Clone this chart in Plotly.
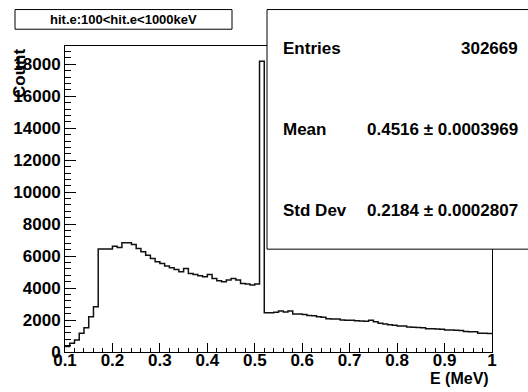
import numpy as np
import plotly.graph_objects as go

# ---- data ----
bin_low = 0.10
bin_width = 0.01
counts = [
    350, 540, 750, 1170, 1520, 2210, 2830,                      # 0.10-0.16
    6440, 6440, 6440, 6620, 6540, 6830, 6830, 6730, 6480, 6270,  # 0.17-0.26
    6060, 5850, 5650, 5540, 5380, 5270, 5170, 5020, 5230, 4920,  # 0.27-0.36
    4850, 4770, 4710, 4850, 4600, 4460, 4400, 4500, 4600, 4500,  # 0.37-0.46
    4290, 4250, 4190, 4250,                                      # 0.47-0.50
    18190,                                                       # 0.51
    2460, 2460, 2480, 2560, 2500, 2560, 2380, 2380, 2350, 2290,  # 0.52-0.61
    2270, 2210, 2180, 2080, 2060, 2070, 2000, 1990, 1980, 1960,  # 0.62-0.71
    1940, 1920, 1990, 1900, 1800, 1760, 1700, 1680, 1630, 1620,  # 0.72-0.81
    1560, 1550, 1540, 1520, 1460, 1450, 1440, 1420, 1380, 1370,  # 0.82-0.91
    1360, 1340, 1280, 1270, 1260, 1180, 1170, 1160,              # 0.92-0.99
]
title_text = "hit.e:100<hit.e<1000keV"
stats_labels = ["Entries", "Mean", "Std Dev"]
stats_values = ["302669", "0.4516 \u00b1 0.0003969", "0.2184 \u00b1 0.0002807"]
x_title = "E (MeV)"
y_title = "Count"
x_range = [0.1, 1.0]
y_range = [0, 19150]

# ---- layout geometry (pixels) ----
W, H = 528, 392
L, R, T, B = 65, 492, 45.5, 352
FONT = "Liberation Sans, Arial, Helvetica, sans-serif"


def px_x(p):
    return (p - L) / (R - L)


def px_y(p):
    return (B - p) / (B - T)


edges = bin_low + bin_width * np.arange(len(counts) + 1)
xs = list(edges)
ys = list(counts) + [counts[-1]]

fig = go.Figure()
fig.add_trace(go.Scatter(
    x=xs, y=ys, mode="lines", line=dict(shape="hv", color="#111111", width=1.5),
    hoverinfo="skip", showlegend=False,
))

fig.update_layout(
    width=W, height=H,
    margin=dict(l=L, r=W - R, t=T, b=H - B, pad=0, autoexpand=False),
    paper_bgcolor="white", plot_bgcolor="white",
    showlegend=False,
    font=dict(family=FONT, color="black"),
)
fig.update_xaxes(
    range=x_range, dtick=0.1, tick0=0.1, showgrid=False, zeroline=False,
    showline=True, linecolor="black", linewidth=1, mirror=True,
    ticks="inside", ticklen=9, tickcolor="black", tickwidth=1,
    ticklabelstandoff=-7,
    minor=dict(dtick=0.02, tick0=0.1, ticks="inside", ticklen=4.5, tickcolor="black", showgrid=False),
    tickfont=dict(family=FONT, size=17, weight="bold", color="black"),
)
fig.update_yaxes(
    range=y_range, dtick=2000, tick0=0, showgrid=False, zeroline=False,
    showline=True, linecolor="black", linewidth=1, mirror=True,
    ticks="inside", ticklen=11, tickcolor="black", tickwidth=1,
    tickformat="d",
    minor=dict(dtick=400, tick0=0, ticks="inside", ticklen=5.5, tickcolor="black", showgrid=False),
    tickfont=dict(family=FONT, size=17, weight="bold", color="black"),
)

shapes = []
annotations = []
# title box
shapes.append(dict(type="rect", xref="paper", yref="paper",
                   x0=px_x(15), x1=px_x(232), y0=px_y(28.7), y1=px_y(9),
                   line=dict(color="black", width=1), fillcolor="white", layer="above"))
annotations.append(dict(xref="paper", yref="paper", x=px_x(123.5), y=px_y(19),
                        text="<b>%s</b>" % title_text, showarrow=False,
                        xanchor="center", yanchor="middle",
                        font=dict(family=FONT, size=13, color="black")))
# stats box (extends past the right edge of the picture)
shapes.append(dict(type="rect", xref="paper", yref="paper",
                   x0=px_x(267), x1=1.5, y0=px_y(249), y1=px_y(9),
                   line=dict(color="black", width=1), fillcolor="white", layer="above"))
rows_y = [48, 129, 210]
for lab, val, yy in zip(stats_labels, stats_values, rows_y):
    annotations.append(dict(xref="paper", yref="paper", x=px_x(281), y=px_y(yy),
                            text="<b>%s</b>" % lab, showarrow=False,
                            xanchor="left", yanchor="middle",
                            font=dict(family=FONT, size=17, color="black")))
    annotations.append(dict(xref="paper", yref="paper", x=px_x(520), y=px_y(yy),
                            text="<b>%s</b>" % val, showarrow=False,
                            xanchor="right", yanchor="middle",
                            font=dict(family=FONT, size=17, color="black")))
# axis titles
annotations.append(dict(xref="paper", yref="paper", x=px_x(491), y=px_y(379),
                        text="<b>%s</b>" % x_title, showarrow=False,
                        xanchor="right", yanchor="middle",
                        font=dict(family=FONT, size=16, color="black")))
annotations.append(dict(xref="paper", yref="paper", x=px_x(20), y=px_y(47),
                        text="<b>%s</b>" % y_title, showarrow=False, textangle=-90,
                        xanchor="center", yanchor="top",
                        font=dict(family=FONT, size=17, color="black")))

fig.update_layout(shapes=shapes, annotations=annotations)
fig.write_html("out.html")
